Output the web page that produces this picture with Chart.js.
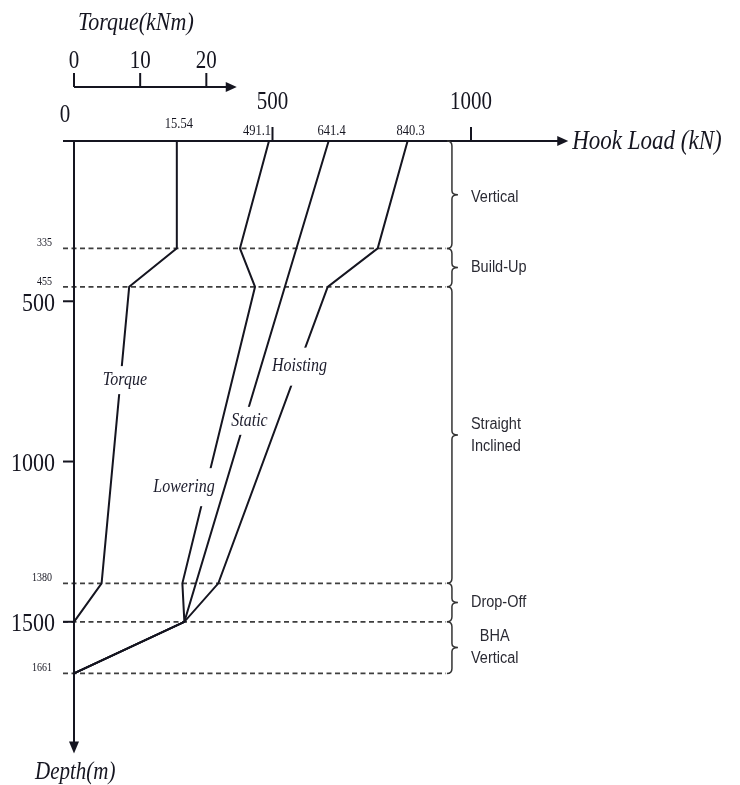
<!DOCTYPE html>
<html><head><meta charset="utf-8">
<script src="https://cdn.jsdelivr.net/npm/chart.js@4/dist/chart.umd.min.js"></script>
<style>html,body{margin:0;padding:0;background:#fff}</style>
</head><body>
<canvas id="c" width="740" height="785" style="display:block"></canvas>
<script>
// ---- data ----
const depths = [0, 335, 455, 1380, 1500, 1661];
const torque = [15.54, 15.54, 8.34, 4.17, 0, 0];
const lowering = [491.1, 418, 456, 273, 278, 0];
const staticDepths = [0, 1500, 1661];
const staticLoad = [641.4, 278, 0];
const hoisting = [840.3, 765, 639, 363.5, 278, 0];
const hookTicks = [500, 1000];
const torqueTicks = [0, 10, 20];
const depthTicks = [500, 1000, 1500];
const sectionDepths = [335, 455, 1380, 1500, 1661];
const smallDepthLabels = [335, 455, 1380, 1661];
const sectionNames = [['Vertical'], ['Build-Up'], ['Straight', 'Inclined'], ['Drop-Off'], ['BHA', 'Vertical']];
const topLabels = ['15.54', '491.1', '641.4', '840.3'];

const INK = '#151520';
const SERIF = '"Liberation Serif", "DejaVu Serif", serif';
const SANS = '"Liberation Sans", Arial, sans-serif';

function txt(ctx, s, x, y, font, align, color, sy) {
  ctx.save();
  ctx.translate(x, y);
  ctx.scale(1, sy || 1.15);
  ctx.font = font;
  ctx.textAlign = align || 'center';
  ctx.textBaseline = 'middle';
  ctx.fillStyle = color || INK;
  ctx.fillText(s, 0, 0);
  ctx.restore();
}
function arrowHead(ctx, x, y, dir) {
  ctx.beginPath();
  if (dir === 'right') { ctx.moveTo(x, y); ctx.lineTo(x - 11, y - 5); ctx.lineTo(x - 11, y + 5); }
  else { ctx.moveTo(x, y); ctx.lineTo(x - 5, y - 12); ctx.lineTo(x + 5, y - 12); }
  ctx.closePath(); ctx.fill();
}
function brace(ctx, x, y1, y2) {
  const r = 5, m = (y1 + y2) / 2;
  ctx.beginPath();
  ctx.moveTo(x - 5, y1);
  ctx.quadraticCurveTo(x, y1, x, y1 + r);
  ctx.lineTo(x, m - 4);
  ctx.quadraticCurveTo(x, m, x + 6, m);
  ctx.quadraticCurveTo(x, m, x, m + 4);
  ctx.lineTo(x, y2 - r);
  ctx.quadraticCurveTo(x, y2, x - 5, y2);
  ctx.stroke();
}

const pts = (xs, ys) => xs.map((v, i) => ({ x: v, y: ys[i] }));
const line = (label, data, axis) => ({
  label, data, xAxisID: axis, yAxisID: 'y', showLine: true,
  borderColor: INK, borderWidth: 2, pointRadius: 0, tension: 0, clip: false, fill: false
});

const decor = {
  id: 'decor',
  beforeDatasetsDraw(chart) {
    const ctx = chart.ctx, X = chart.scales.x, T = chart.scales.xT, Y = chart.scales.y;
    const x0 = X.getPixelForValue(0), y0 = Y.getPixelForValue(0);
    ctx.save();
    // dashed section lines
    ctx.strokeStyle = '#3e3e3e'; ctx.lineWidth = 1.8; ctx.setLineDash([5, 3.5]);
    sectionDepths.forEach(d => {
      const y = Y.getPixelForValue(d);
      ctx.beginPath(); ctx.moveTo(x0 - 11, y); ctx.lineTo(X.getPixelForValue(937), y); ctx.stroke();
    });
    ctx.setLineDash([]);
    // hook-load axis
    ctx.strokeStyle = INK; ctx.fillStyle = INK; ctx.lineWidth = 2;
    const hx1 = X.getPixelForValue(1245);
    ctx.beginPath(); ctx.moveTo(x0 - 11, y0); ctx.lineTo(hx1 - 8, y0); ctx.stroke();
    arrowHead(ctx, hx1, y0, 'right');
    hookTicks.forEach(v => {
      const x = X.getPixelForValue(v);
      ctx.beginPath(); ctx.moveTo(x, y0 - 14); ctx.lineTo(x, y0); ctx.stroke();
      txt(ctx, String(v), x, y0 - 38, '21px ' + SERIF);
    });
    txt(ctx, '0', x0 - 9, y0 - 25, '21px ' + SERIF);
    txt(ctx, 'Hook Load (kN)', hx1 + 4, y0 + 1, 'italic 23px ' + SERIF, 'left');
    // depth axis
    const yEnd = Y.getPixelForValue(1661) + 80;
    ctx.beginPath(); ctx.moveTo(x0, y0 - 1); ctx.lineTo(x0, yEnd - 8); ctx.stroke();
    arrowHead(ctx, x0, yEnd, 'down');
    depthTicks.forEach(d => {
      const y = Y.getPixelForValue(d);
      ctx.beginPath(); ctx.moveTo(x0 - 11, y); ctx.lineTo(x0, y); ctx.stroke();
      txt(ctx, String(d), x0 - 19, y + 3, '22px ' + SERIF, 'right');
    });
    smallDepthLabels.forEach(d => {
      const y = Y.getPixelForValue(d);
      txt(ctx, String(d), x0 - 22, y - 5, '10px ' + SERIF, 'right');
    });
    txt(ctx, 'Depth(m)', x0 - 39, yEnd + 19, 'italic 21px ' + SERIF, 'left');
    // torque axis
    const ty = y0 - 54;
    const tx1 = T.getPixelForValue(24.6);
    ctx.beginPath(); ctx.moveTo(x0, ty); ctx.lineTo(tx1 - 8, ty); ctx.stroke();
    arrowHead(ctx, tx1, ty, 'right');
    torqueTicks.forEach(v => {
      const x = T.getPixelForValue(v);
      ctx.beginPath(); ctx.moveTo(x, ty - 14); ctx.lineTo(x, ty); ctx.stroke();
      txt(ctx, String(v), x, ty - 25, '21px ' + SERIF);
    });
    txt(ctx, 'Torque(kNm)', x0 + 4, ty - 64, 'italic 22px ' + SERIF, 'left');
    // values on top
    txt(ctx, topLabels[0], T.getPixelForValue(15.54) + 2, y0 - 17, '12.5px ' + SERIF);
    txt(ctx, topLabels[1], X.getPixelForValue(491.1) - 12, y0 - 10, '12.5px ' + SERIF);
    txt(ctx, topLabels[2], X.getPixelForValue(641.4) + 3, y0 - 10, '12.5px ' + SERIF);
    txt(ctx, topLabels[3], X.getPixelForValue(840.3) + 3, y0 - 10, '12.5px ' + SERIF);
    // braces and section names
    ctx.strokeStyle = '#333'; ctx.lineWidth = 1.5;
    const bx = X.getPixelForValue(952);
    const bounds = [0].concat(sectionDepths);
    for (let i = 0; i < sectionNames.length; i++) {
      const a = Y.getPixelForValue(bounds[i]), b = Y.getPixelForValue(bounds[i + 1]);
      brace(ctx, bx, a, b);
      const names = sectionNames[i], m = (a + b) / 2 + (i === 0 ? 3 : 0);
      const f = '14.5px ' + SANS;
      ctx.font = f;
      const wMax = Math.max(...names.map(n => ctx.measureText(n).width));
      const centered = i === 4;
      names.forEach((n, k) => {
        const yy = m + (k - (names.length - 1) / 2) * 22;
        if (centered) txt(ctx, n, bx + 19 + wMax / 2, yy, f, 'center', '#2a2a33', 1.12);
        else txt(ctx, n, bx + 19, yy, f, 'left', '#2a2a33', 1.12);
      });
    }
    ctx.restore();
  },
  afterDatasetsDraw(chart) {
    const ctx = chart.ctx, X = chart.scales.x, T = chart.scales.xT, Y = chart.scales.y;
    const labels = [
      ['Torque', T.getPixelForValue(7.7), Y.getPixelForValue(746), 28],
      ['Lowering', X.getPixelForValue(277), Y.getPixelForValue(1080), 38],
      ['Static', X.getPixelForValue(442), Y.getPixelForValue(873), 28],
      ['Hoisting', X.getPixelForValue(568), Y.getPixelForValue(704), 38]
    ];
    ctx.save();
    labels.forEach(([s, x, y, h]) => {
      ctx.font = 'italic 16px ' + SERIF;
      const w = ctx.measureText(s).width;
      ctx.fillStyle = '#fff';
      ctx.fillRect(x - w / 2 - 2, y - h / 2, w + 4, h);
      txt(ctx, s, x, y, 'italic 16px ' + SERIF, 'center', '#1c1c2c', 1.12);
    });
    ctx.restore();
  }
};

new Chart(document.getElementById('c'), {
  type: 'scatter',
  data: {
    datasets: [
      line('Torque', pts(torque, depths), 'xT'),
      line('Lowering', pts(lowering, depths), 'x'),
      line('Static', pts(staticLoad, staticDepths), 'x'),
      line('Hoisting', pts(hoisting, depths), 'x')
    ]
  },
  options: {
    responsive: false,
    devicePixelRatio: 1,
    animation: false,
    layout: { padding: { left: 74, right: 269, top: 141, bottom: 111.6 } },
    plugins: { legend: { display: false }, tooltip: { enabled: false } },
    scales: {
      x: { type: 'linear', min: 0, max: 1000, display: false },
      xT: { type: 'linear', min: 0, max: 60, display: false },
      y: { type: 'linear', min: 0, max: 1661, reverse: true, display: false }
    }
  },
  plugins: [decor]
});
</script>
</body></html>
